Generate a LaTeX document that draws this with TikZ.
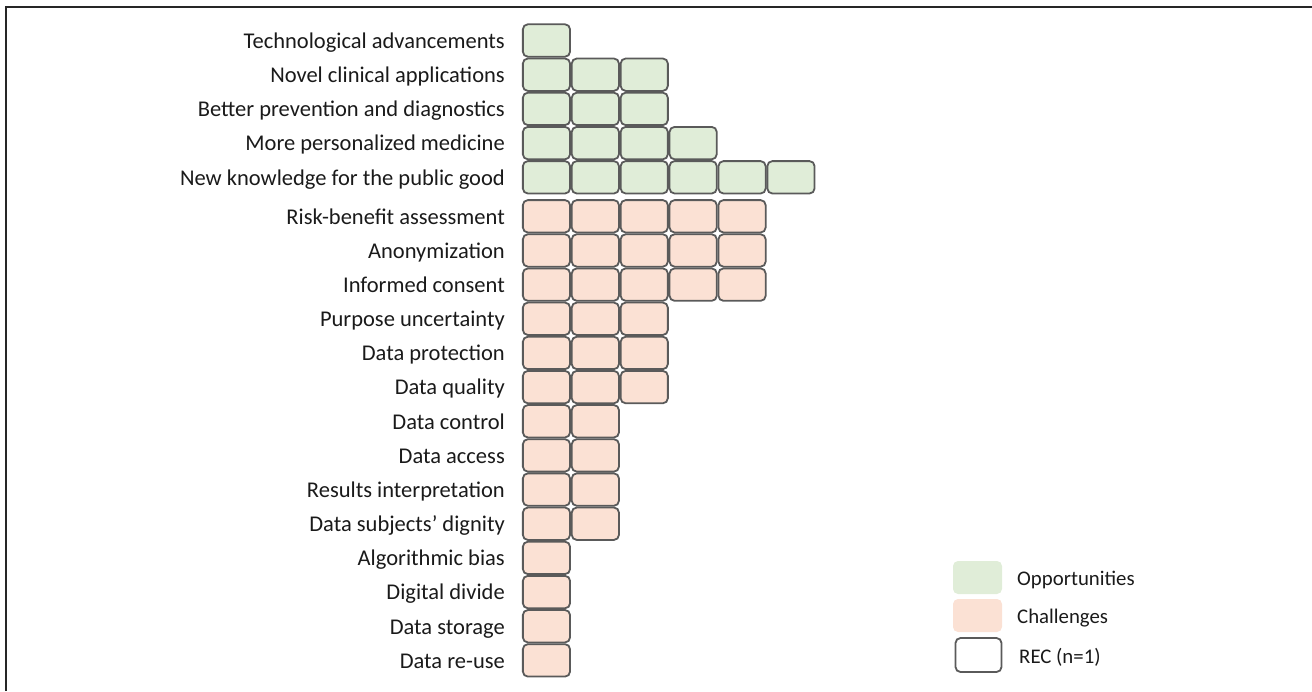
\documentclass[tikz,border=0pt]{standalone}
\usepackage{fontspec}
\setmainfont{Carlito}
\definecolor{opp}{HTML}{E0EDD8}
\definecolor{cha}{HTML}{FBE1D4}
\definecolor{edge}{HTML}{5A5A5A}
\definecolor{txt}{HTML}{1A1A1A}
\begin{document}
\begin{tikzpicture}[x=1pt,y=-1pt,
  cell/.style={draw=edge,line width=1.8pt,rounded corners=5pt,minimum width=47.2pt,minimum height=32.4pt,inner sep=0pt},
  swatch/.style={rounded corners=5pt,minimum width=49pt,minimum height=33pt,inner sep=0pt},
  lab/.style={anchor=base east,font=\fontsize{22.5}{25}\selectfont,text=txt,inner sep=0pt},
  leg/.style={anchor=base west,font=\fontsize{20.8}{24}\selectfont,text=txt,inner sep=0pt},
  frame/.style={draw=black!85,line width=2pt}]
\useasboundingbox (0,0) rectangle (1312,691);
% frame
\coordinate (fb) at (6,691);
\coordinate (fc) at (6,7);
\coordinate (fr) at (1312,7);
\draw[frame] (fb) -- (fc) -- (fr);
% opportunities
\foreach \n/\t [count=\r] in {1/Technological advancements,3/Novel clinical applications,3/Better prevention and diagnostics,4/More personalized medicine,6/New knowledge for the public good}{
  \pgfmathsetmacro{\yc}{40.5+34.2*(\r-1)}
  \node[lab] (gl\r) at (505,\yc+7.8) {\t};
  \foreach \c in {1,...,\n}
    \node[cell,fill=opp] (g\r-\c) at ({522+48.9*(\c-0.5)},\yc) {};
}
% challenges
\foreach \n/\t [count=\r] in {5/Risk-benefit assessment,5/Anonymization,5/Informed consent,3/Purpose uncertainty,3/Data protection,3/Data quality,2/Data control,2/Data access,2/Results interpretation,2/Data subjects’ dignity,1/Algorithmic bias,1/Digital divide,1/Data storage,1/Data re-use}{
  \pgfmathsetmacro{\yc}{216.3+34.16*(\r-1)}
  \node[lab] (cl\r) at (505,\yc+7.8) {\t};
  \foreach \c in {1,...,\n}
    \node[cell,fill=cha] (c\r-\c) at ({522+48.9*(\c-0.5)},\yc) {};
}
% legend
\node[swatch,fill=opp] (lg1) at (977.5,577.5) {};
\node[swatch,fill=cha] (lg2) at (977.5,615.5) {};
\node[cell,fill=white,minimum width=46pt,minimum height=34pt] (lg3) at (978.5,655) {};
\node[leg] (lt1) at (1017,585.5) {Opportunities};
\node[leg] (lt2) at (1017,623) {Challenges};
\node[leg] (lt3) at (1019,663) {REC (n=1)};
\end{tikzpicture}
\end{document}
